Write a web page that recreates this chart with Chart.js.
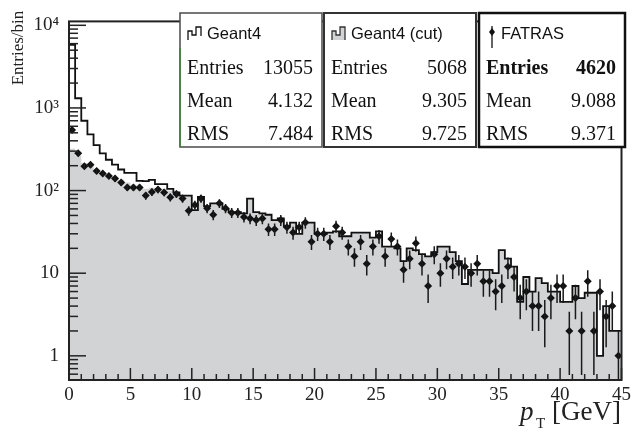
<!DOCTYPE html>
<html>
<head>
<meta charset="utf-8">
<script src="https://cdn.jsdelivr.net/npm/chart.js@4/dist/chart.umd.min.js"></script>
<style>
  html, body { margin: 0; padding: 0; background: #fff; }
  canvas { display: block; }
</style>
</head>
<body>
<canvas id="ptChart" width="635" height="433"></canvas>
<script>
// 0.5 GeV bins from 0 to 45 GeV
const binEdges = Array.from({ length: 91 }, (_, i) => i * 0.5);

// entries per bin
const geant4 = [
  5800, 1310, 700, 480, 354, 282, 236, 206, 180, 164,
  164, 131, 130, 135, 120, 120, 105, 95, 87, 87,
  58, 84, 65, 70, 70, 60, 55, 55, 53, 80,
  55, 53, 51, 44, 46, 37, 41, 30, 41, 41,
  30, 30, 31, 32, 28, 28, 31, 31, 31, 27,
  32, 21, 21, 20, 14, 20, 19, 17, 16, 18,
  21, 21, 18, 14, 7.4, 11, 11, 11, 11, 10,
  19, 15, 12, 4.5, 9, 6, 8.7, 7.6, 6, 6,
  4.5, 4.5, 7, 5, 5.8, 5.8, 1, 4, 2, 2
];
const geant4Cut = [
  320, 265, 215, 200, 180, 168, 155, 145, 135, 125,
  118, 112, 105, 108, 105, 105, 100, 95, 87, 87,
  58, 84, 65, 70, 70, 60, 55, 55, 53, 80,
  55, 53, 51, 44, 46, 37, 41, 30, 41, 41,
  30, 30, 31, 32, 28, 28, 31, 31, 31, 27,
  26, 21, 21, 20, 14, 20, 19, 17, 16, 18,
  21, 21, 18, 14, 7.4, 11, 11, 11, 11, 10,
  19, 15, 12, 4.5, 9, 6, 8.7, 7.6, 6, 6,
  4.5, 4.5, 7, 5, 5.8, 5.8, 1, 4, 2, 2
];
const fatras = [
  540, 282, 197, 206, 172, 161, 150, 140, 125, 109,
  109, 109, 87, 96, 103, 95, 83, 91, 80, 57,
  67, 80, 61, 51, 70, 61, 54, 54, 48, 46,
  44, 46, 34, 34, 44, 36, 31, 36, 41, 24,
  30, 30, 24, 37, 31, 21, 16, 24, 13, 21,
  28, 16, 26, 21, 11, 15, 23, 13, 7, 17,
  10, 15, 12, 13, 12, 10, 13, 8, 8, 6,
  7, 12, 9, 5, 6, 4, 4, 3, 5, 7,
  7, 2, 5, 2, 8, 2, 6, 3, 4, 1
];

const xTicks = [0, 5, 10, 15, 20, 25, 30, 35, 40, 45];
const yTicks = [1, 10, 100, 1000, 10000];
const yTickLabels = ['1', '10', '10²', '10³', '10⁴'];

const statNames = ['Entries', 'Mean', 'RMS'];
const geant4Stats = ['13055', '4.132', '7.484'];
const cutStats = ['5068', '9.305', '9.725'];
const fatrasStats = ['4620', '9.088', '9.371'];

const SERIF = '"Liberation Serif", "DejaVu Serif", serif';
const SANS = '"Liberation Sans", Arial, sans-serif';

function stepData(values) {
  // one point per bin edge, last edge repeats the last bin
  return binEdges.map((x, i) => ({ x, y: values[Math.min(i, values.length - 1)] }));
}

const fatrasPoints = fatras.map((v, i) => ({ x: (binEdges[i] + binEdges[i + 1]) / 2, y: v }));

function line(ctx, x1, y1, x2, y2) {
  ctx.beginPath();
  ctx.moveTo(x1, y1);
  ctx.lineTo(x2, y2);
  ctx.stroke();
}

// poisson error bars for FATRAS
const errorBars = {
  id: 'errorBars',
  afterDatasetsDraw(chart) {
    const { ctx, chartArea: a, scales: { x, y } } = chart;
    ctx.save();
    ctx.beginPath();
    ctx.rect(a.left, a.top, a.right - a.left, a.bottom - a.top);
    ctx.clip();
    ctx.strokeStyle = '#1a1a1a';
    ctx.lineWidth = 1.5;
    fatrasPoints.forEach((p) => {
      const err = Math.sqrt(p.y);
      const lo = Math.max(p.y - err, y.min);
      const px = x.getPixelForValue(p.x);
      line(ctx, px, y.getPixelForValue(lo), px, y.getPixelForValue(p.y + err));
    });
    ctx.restore();
  }
};

// ROOT style frame, inward ticks, axis titles
const frameAndTicks = {
  id: 'frameAndTicks',
  afterDraw(chart) {
    const { ctx, chartArea: a, scales: { x, y } } = chart;
    ctx.save();
    ctx.strokeStyle = '#222';
    ctx.lineWidth = 1.5;
    for (let e = -1; e <= 4; e++) {
      for (let m = 1; m <= 9; m++) {
        const v = m * Math.pow(10, e);
        if (v < y.min || v > y.max) continue;
        const py = y.getPixelForValue(v);
        line(ctx, a.left, py, a.left + (m === 1 ? 17 : 9), py);
      }
    }
    for (let v = 0; v <= 45; v++) {
      const px = x.getPixelForValue(v);
      line(ctx, px, a.bottom, px, a.bottom - (v % 5 === 0 ? 12 : 6));
    }
    ctx.lineWidth = 2;
    ctx.strokeRect(a.left, a.top, a.right - a.left, a.bottom - a.top);

    ctx.fillStyle = '#222';
    // y title
    ctx.save();
    ctx.translate(19, 48);
    ctx.rotate(-Math.PI / 2);
    ctx.font = '17px ' + SERIF;
    ctx.textAlign = 'center';
    ctx.textBaseline = 'middle';
    ctx.fillText('Entries/bin', 0, 0);
    ctx.restore();
    // x title: p_T [GeV]
    ctx.textAlign = 'left';
    ctx.textBaseline = 'alphabetic';
    ctx.font = 'italic 27px ' + SERIF;
    ctx.fillText('p', 520, 420);
    ctx.font = '15px ' + SERIF;
    ctx.fillText('T', 536, 428);
    ctx.font = '27px ' + SERIF;
    ctx.fillText('[GeV]', 552, 420);
    ctx.restore();
  }
};

const legendBoxes = [
  { left: 180, right: 322, title: 'Geant4', icon: 'step', stats: geant4Stats, lw: 1.5, color: '#4a4a4a', bold: false },
  { left: 324, right: 476, title: 'Geant4 (cut)', icon: 'stepFilled', stats: cutStats, lw: 2, color: '#333', bold: false },
  { left: 479, right: 625, title: 'FATRAS', icon: 'marker', stats: fatrasStats, lw: 2.5, color: '#111', bold: true }
];

function drawIcon(ctx, kind, x0, y0) {
  const pts = [[0, 14], [0, 5], [4, 5], [4, 9], [8, 9], [8, 1], [13, 1], [13, 10]];
  ctx.save();
  ctx.lineWidth = 1.3;
  if (kind === 'marker') {
    ctx.strokeStyle = '#111';
    line(ctx, x0 + 5, y0, x0 + 5, y0 + 22);
    ctx.fillStyle = '#111';
    ctx.beginPath();
    ctx.moveTo(x0 + 5, y0 + 2);
    ctx.lineTo(x0 + 8, y0 + 6);
    ctx.lineTo(x0 + 5, y0 + 10);
    ctx.lineTo(x0 + 2, y0 + 6);
    ctx.fill();
  } else {
    ctx.beginPath();
    pts.forEach(([px, py], i) => (i ? ctx.lineTo(x0 + px, y0 + py) : ctx.moveTo(x0 + px, y0 + py)));
    if (kind === 'stepFilled') {
      ctx.lineTo(x0 + 13, y0 + 14);
      ctx.fillStyle = '#d2d3d5';
      ctx.fill();
      ctx.strokeStyle = '#333';
    } else {
      ctx.strokeStyle = '#111';
    }
    ctx.stroke();
  }
  ctx.restore();
}

const statBoxes = {
  id: 'statBoxes',
  afterDraw(chart) {
    const ctx = chart.ctx;
    const top = 13, bottom = 147;
    ctx.save();
    legendBoxes.forEach((b) => {
      ctx.fillStyle = '#fff';
      ctx.fillRect(b.left, top, b.right - b.left, bottom - top);
      ctx.strokeStyle = b.color;
      ctx.lineWidth = b.lw;
      ctx.strokeRect(b.left, top, b.right - b.left, bottom - top);

      drawIcon(ctx, b.icon, b.left + 8, 26);
      ctx.fillStyle = '#111';
      ctx.font = '16.5px ' + SANS;
      ctx.textBaseline = 'alphabetic';
      ctx.textAlign = 'left';
      ctx.fillText(b.title, b.left + (b.icon === 'marker' ? 22 : 27), 39);

      statNames.forEach((name, i) => {
        const yy = 74 + i * 33;
        const weight = b.bold && i === 0 ? 'bold ' : '';
        ctx.font = weight + '20px ' + SERIF;
        ctx.textAlign = 'left';
        ctx.fillText(name, b.left + 7, yy);
        ctx.textAlign = 'right';
        ctx.fillText(b.stats[i], b.right - 9, yy);
      });
    });
    // greenish left edge on the first box
    ctx.strokeStyle = '#3a8a3a';
    ctx.lineWidth = 1.5;
    line(ctx, legendBoxes[0].left, 48, legendBoxes[0].left, bottom);
    ctx.restore();
  }
};

new Chart(document.getElementById('ptChart'), {
  type: 'line',
  data: {
    datasets: [
      {
        label: 'FATRAS',
        type: 'scatter',
        data: fatrasPoints,
        pointStyle: 'rectRot',
        pointRadius: 4,
        pointBackgroundColor: '#111',
        pointBorderWidth: 0,
        showLine: false,
        order: 0
      },
      {
        label: 'Geant4',
        data: stepData(geant4),
        stepped: true,
        borderColor: '#111',
        borderWidth: 1.8,
        pointRadius: 0,
        fill: false,
        order: 1
      },
      {
        label: 'Geant4 (cut)',
        data: stepData(geant4Cut),
        stepped: true,
        borderColor: '#d2d3d5',
        borderWidth: 0,
        backgroundColor: '#d2d3d5',
        pointRadius: 0,
        fill: 'start',
        order: 2
      }
    ]
  },
  options: {
    responsive: false,
    animation: false,
    devicePixelRatio: 1,
    layout: { padding: { left: 0, right: 7, top: 11, bottom: 0 } },
    plugins: { legend: { display: false }, tooltip: { enabled: false } },
    scales: {
      x: {
        type: 'linear',
        min: 0,
        max: 45,
        afterFit: (s) => { s.height = 53; },
        afterBuildTicks: (s) => { s.ticks = xTicks.map((v) => ({ value: v })); },
        grid: { display: false, drawTicks: false },
        border: { display: false },
        ticks: {
          autoSkip: false,
          maxRotation: 0,
          padding: 4,
          color: '#222',
          font: { family: SERIF, size: 19 }
        }
      },
      y: {
        type: 'logarithmic',
        min: 0.51,
        max: 11150,
        afterFit: (s) => { s.width = 69; },
        afterBuildTicks: (s) => { s.ticks = yTicks.map((v) => ({ value: v })); },
        grid: { display: false, drawTicks: false },
        border: { display: false },
        ticks: {
          autoSkip: false,
          padding: 10,
          color: '#222',
          font: { family: SERIF, size: 19 },
          callback: (v) => {
            const i = yTicks.indexOf(v);
            return i >= 0 ? yTickLabels[i] : '';
          }
        }
      }
    }
  },
  plugins: [errorBars, frameAndTicks, statBoxes]
});
</script>
</body>
</html>
